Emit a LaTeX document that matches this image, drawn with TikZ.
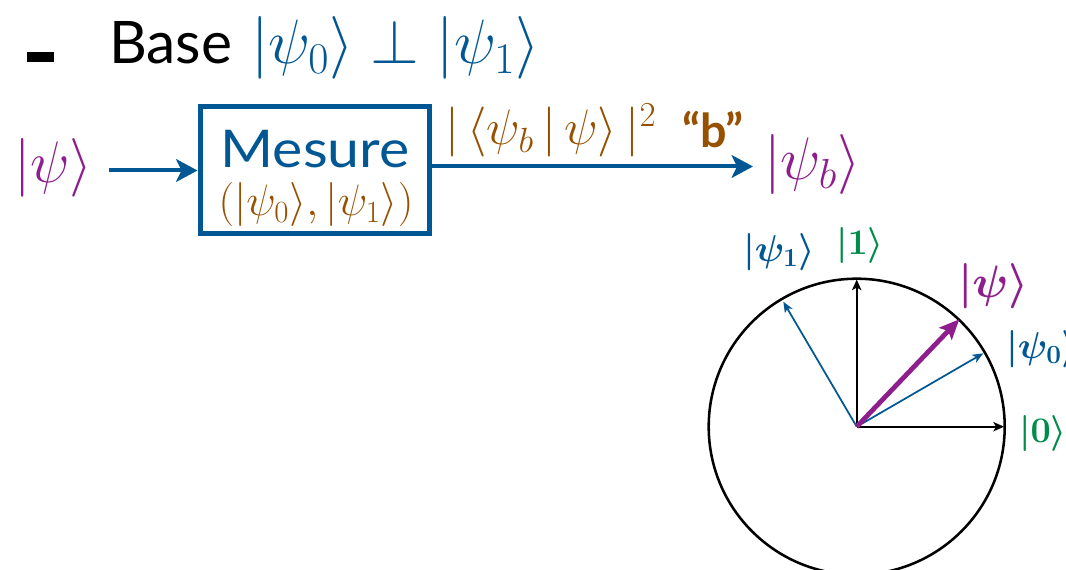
\RequirePackage{fix-cm}
\documentclass[tikz,border=0pt]{standalone}
\usepackage{amsmath,amssymb}
\usepackage{fontspec}
\setmainfont{Lato}
\newfontfamily\widesans[FakeStretch=1.1]{Lato}
\usetikzlibrary{arrows.meta}
\definecolor{qblue}{RGB}{0,87,148}
\definecolor{qpurple}{RGB}{142,30,140}
\definecolor{qbrown}{RGB}{150,80,0}
\definecolor{qgreen}{RGB}{0,140,75}
\newcommand{\fsz}[1]{\fontsize{#1}{#1}\selectfont}
\begin{document}
\begin{tikzpicture}[x=0.75pt,y=-0.75pt,
  txt/.style={inner sep=0pt, outer sep=0pt, anchor=base west},
  flow/.style={draw=qblue, line width=3pt, -{Stealth[length=16pt,width=17pt,inset=4pt]}},
  axis/.style={draw=black, line width=1.5pt, -{Stealth[length=8pt,width=7pt,inset=2pt]}},
  basisvec/.style={draw=qblue, line width=1.3pt, -{Stealth[length=8pt,width=6.5pt,inset=2pt]}},
  statevec/.style={draw=qpurple, line width=3.6pt, -{Stealth[length=15pt,width=13pt,inset=3pt]}},
  blockbox/.style={draw=qblue, line width=3.75pt, minimum width=171.75pt, minimum height=95.25pt, inner sep=0pt}]
\useasboundingbox (0,0) rectangle (1066,570);
\clip (0,0) rectangle (1066,570);

% title line
\fill (27,52) rectangle (54,62.5);
\node[txt, font=\fsz{44}] (base) at (109,64) {Base};
\node[txt, font=\fsz{47}, text=qblue] (perp) at (251,64) {$|\psi_0\rangle \perp |\psi_1\rangle$};

% measurement block
\node[txt, font=\fsz{44}, text=qpurple] (psi) at (14,183) {$|\psi\rangle$};
\node[blockbox] (meas) at (314.5,170.5) {};
\node[txt, anchor=base, text depth=0pt, font=\widesans\fsz{39}, text=qblue] (mes) at (315,168) {Mesure};
\node[txt, anchor=base, font=\fsz{33}, text=qbrown] (basis) at (316,216) {$(|\psi_0\rangle,|\psi_1\rangle)$};
\node[txt, font=\fsz{45}, text=qpurple] (psib) at (764,180) {$|\psi_b\rangle$};
\node[txt, font=\fsz{37.5}, text=qbrown] (prob) at (445,145) {$|\,\langle\psi_b\,|\,\psi\rangle\,|^2$};
\node[txt, font=\fsz{35}\bfseries, text=qbrown] (bq) at (682,148) {“b”};

\path (psi.east) ++(16,0) coordinate (inS);
\draw[flow] (inS |- meas.west) -- (meas.west);
\path (meas.east) ++(0,-4) coordinate (outS);
\path (psib.west) ++(-11,0) coordinate (outE);
\draw[flow] (outS) -- (outE |- outS);

% circle diagram
\coordinate (O) at (856.7,426.7);
\draw[line width=1.9pt] (O) circle (148);
\coordinate (e0) at (1004,426.7);
\coordinate (e1) at (856.7,279.5);
\coordinate (f0) at (983.3,353.3);
\coordinate (f1) at (783.3,301.7);
\coordinate (fs) at (959.3,319.3);
\draw[axis] (O) -- (e0);
\draw[axis] (O) -- (e1);
\draw[basisvec] (O) -- (f1);
\draw[basisvec] (O) -- (f0);
\draw[statevec] (O) -- (fs);

\node[txt, font=\fsz{28}, text=qblue] (l1) at (743,261) {$\boldsymbol{|\psi_1\rangle}$};
\node[txt, font=\fsz{27}, text=qgreen] (k1) at (836,254) {$\boldsymbol{|1\rangle}$};
\node[txt, font=\fsz{34}, text=qpurple] (lp) at (958,297) {$\boldsymbol{|\psi\rangle}$};
\node[txt, font=\fsz{28}, text=qblue] (l0) at (1006,358) {$\boldsymbol{|\psi_0\rangle}$};
\node[txt, font=\fsz{27}, text=qgreen] (k0) at (1019,442) {$\boldsymbol{|0\rangle}$};
\end{tikzpicture}
\end{document}
